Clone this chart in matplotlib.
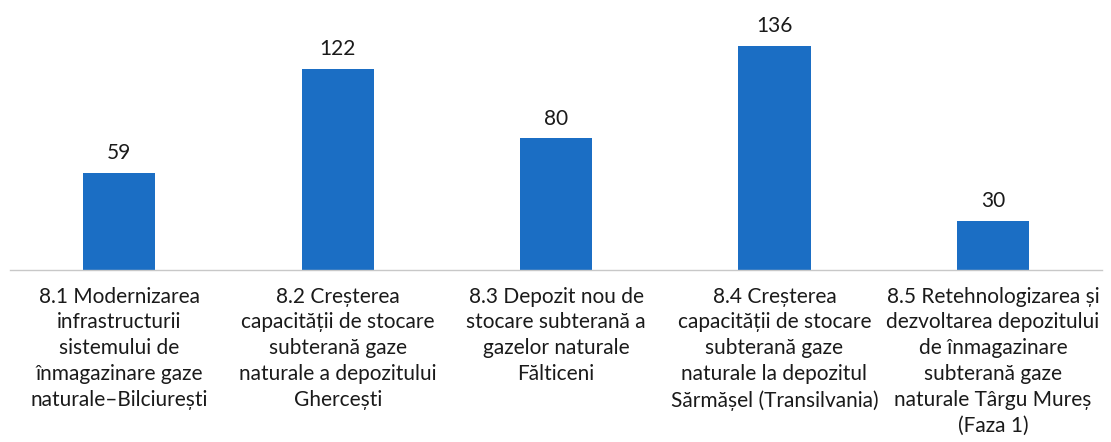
import matplotlib
matplotlib.use("Agg")
import matplotlib.pyplot as plt

categories = [
    "8.1 Modernizarea\ninfrastructurii\nsistemului de\nînmagazinare gaze\nnaturale–Bilciurești",
    "8.2 Creșterea\ncapacității de stocare\nsubterană gaze\nnaturale a depozitului\nGhercești",
    "8.3 Depozit nou de\nstocare subterană a\ngazelor naturale\nFălticeni",
    "8.4 Creșterea\ncapacității de stocare\nsubterană gaze\nnaturale la depozitul\nSărmășel (Transilvania)",
    "8.5 Retehnologizarea și\ndezvoltarea depozitului\nde înmagazinare\nsubterană gaze\nnaturale Târgu Mureș\n(Faza 1)",
]
values = [59, 122, 80, 136, 30]

plt.rcParams["font.family"] = ["Lato", "DejaVu Sans"]

fig = plt.figure(figsize=(11.11, 4.42), dpi=100)
ax = fig.add_axes([0.009, 0.389, 0.983, 0.611])

x = list(range(len(values)))
ax.bar(x, values, width=0.33, color="#1b6ec4", zorder=2)

ax.set_xlim(-0.5, len(values) - 0.5)
ax.set_ylim(0, 164)

for xi, v in zip(x, values):
    ax.annotate(str(v), (xi, v), xytext=(0, 7), textcoords="offset points",
                ha="center", va="bottom", fontsize=15, color="#1a1a1a")

ax.set_xticks(x)
ax.set_xticklabels(categories, fontsize=15, color="#1a1a1a", linespacing=1.36)
ax.tick_params(axis="x", length=0, pad=12)
ax.set_yticks([])

for side in ["top", "right", "left"]:
    ax.spines[side].set_visible(False)
ax.spines["bottom"].set_color("#c8c8c8")
ax.spines["bottom"].set_linewidth(1.0)

fig.savefig("out.png", dpi=100, facecolor="white")
